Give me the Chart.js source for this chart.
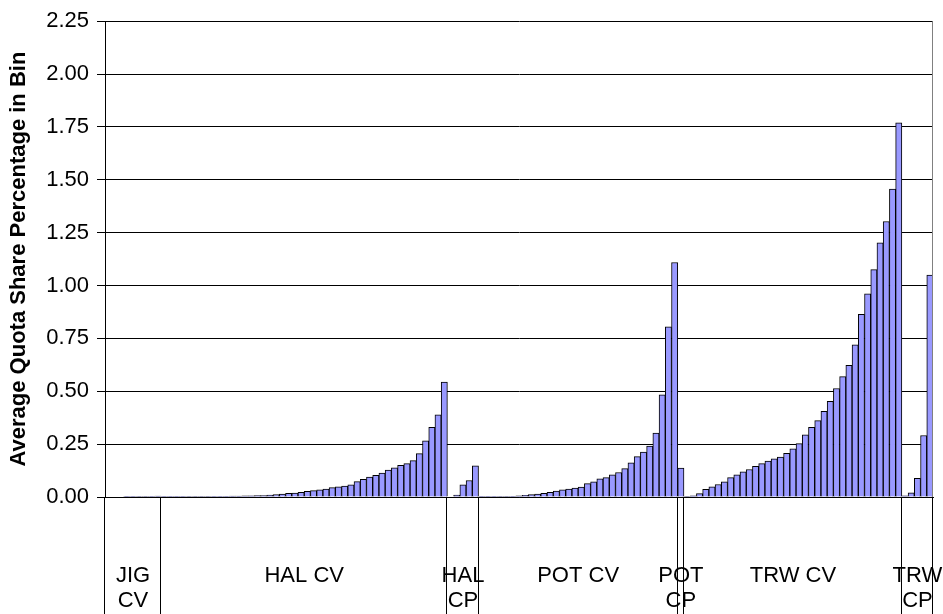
<!DOCTYPE html>
<html><head><meta charset="utf-8">
<script src="https://cdn.jsdelivr.net/npm/chart.js@4.4.1/dist/chart.umd.min.js"></script>
<style>html,body{margin:0;padding:0;background:#fff;} canvas{display:block;}</style>
</head><body>
<canvas id="c" width="943" height="614"></canvas>
<script>
// ---- data ----
const groupNames = [["JIG","CV"],["HAL CV"],["HAL","CP"],["POT CV"],["POT","CP"],["TRW CV"],["TRW","CP"]];
const jigCV = [0, 0, 0, 0.001, 0.001, 0.002, 0.002, 0.003, 0.004];
const halCV = [0.001, 0.001, 0.001, 0.001, 0.002, 0.002, 0.002, 0.002, 0.003, 0.003,
               0.003, 0.004, 0.004, 0.005, 0.006, 0.007, 0.007, 0.009, 0.012, 0.014,
               0.017, 0.019, 0.022, 0.027, 0.030, 0.034, 0.038, 0.044, 0.048, 0.052,
               0.058, 0.073, 0.084, 0.094, 0.102, 0.113, 0.127, 0.138, 0.150, 0.158,
               0.172, 0.205, 0.266, 0.330, 0.388, 0.544];
const halCP = [0, 0.009, 0.058, 0.078, 0.147];
const potCV = [0.0005, 0.001, 0.001, 0.002, 0.002, 0.003, 0.005, 0.008, 0.011, 0.014,
               0.017, 0.022, 0.028, 0.034, 0.037, 0.042, 0.047, 0.063, 0.072, 0.086,
               0.092, 0.105, 0.116, 0.134, 0.161, 0.191, 0.213, 0.241, 0.302, 0.483,
               0.805, 1.109];
const potCP = [0.137];
const trwCV = [0.002, 0.006, 0.016, 0.036, 0.048, 0.059, 0.072, 0.092, 0.105, 0.119,
               0.130, 0.145, 0.158, 0.170, 0.180, 0.189, 0.206, 0.228, 0.253, 0.294,
               0.330, 0.361, 0.405, 0.452, 0.513, 0.569, 0.623, 0.720, 0.864, 0.961,
               1.075, 1.202, 1.303, 1.456, 1.769];
const trwCP = [0.006, 0.020, 0.088, 0.291, 1.050];
const yMin = 0, yMax = 2.25, yStep = 0.25;
const yTitle = "Average Quota Share Percentage in Bin";

// ---- build ----
const groups = [jigCV, halCV, halCP, potCV, potCP, trwCV, trwCP];
const values = [].concat(...groups);
const labels = values.map(() => '');

const FONT = '"Liberation Sans", Arial, sans-serif';

const groupAxis = {
  id: 'groupAxis',
  afterDraw(chart) {
    const ctx = chart.ctx, x = chart.scales.x, area = chart.chartArea;
    const n = values.length;
    const half = (x.getPixelForValue(1) - x.getPixelForValue(0)) / 2;
    const edge = i => i < n ? x.getPixelForValue(i) - half : x.getPixelForValue(n - 1) + half;
    ctx.save();
    // right border of plot
    ctx.strokeStyle = '#808080';
    ctx.lineWidth = 1;
    ctx.beginPath();
    const rx = Math.round(area.right) - 0.5;
    ctx.moveTo(rx, area.top); ctx.lineTo(rx, area.bottom);
    ctx.stroke();
    // dividers and labels
    ctx.strokeStyle = '#000';
    ctx.fillStyle = '#000';
    ctx.font = '22px ' + FONT;
    ctx.textAlign = 'center';
    ctx.textBaseline = 'alphabetic';
    let start = 0;
    const drawDiv = px => {
      const xx = Math.round(px) + 0.5;
      ctx.beginPath(); ctx.moveTo(xx, area.bottom); ctx.lineTo(xx, chart.height); ctx.stroke();
    };
    drawDiv(edge(0) - 1);
    groups.forEach((g, gi) => {
      const end = start + g.length;
      const cx = (edge(start) + edge(end)) / 2;
      groupNames[gi].forEach((line, li) => {
        ctx.fillText(line, cx, area.bottom + 85 + li * 25);
      });
      drawDiv(edge(end) - 1);
      start = end;
    });
    ctx.restore();
  }
};

new Chart(document.getElementById('c'), {
  type: 'bar',
  data: {
    labels: labels,
    datasets: [{
      data: values,
      backgroundColor: '#9999FF',
      borderColor: '#000000',
      borderWidth: 1,
      barPercentage: 1,
      categoryPercentage: 1
    }]
  },
  options: {
    responsive: false,
    animation: false,
    devicePixelRatio: 1,
    layout: { padding: { top: 17, right: 10, left: 0, bottom: 0 } },
    plugins: { legend: { display: false }, tooltip: { enabled: false }, title: { display: false } },
    scales: {
      x: {
        grid: { display: false },
        border: { display: true, color: '#000', width: 1 },
        ticks: { display: false },
        afterFit(s) { s.height = 117; }
      },
      y: {
        min: yMin, max: yMax,
        ticks: {
          stepSize: yStep,
          color: '#000',
          font: { family: FONT, size: 22 },
          padding: 8,
          callback: v => Number(v).toFixed(2)
        },
        grid: { color: '#000', lineWidth: 1, tickLength: 8, drawTicks: true },
        border: { display: true, color: '#000', width: 1 },
        title: {
          display: true, text: yTitle, color: '#000',
          font: { family: FONT, size: 22, weight: 'bold' },
          padding: { top: 6, bottom: 0 }
        },
        afterFit(s) { s.width = 105; }
      }
    }
  },
  plugins: [groupAxis]
});
</script>
</body></html>
